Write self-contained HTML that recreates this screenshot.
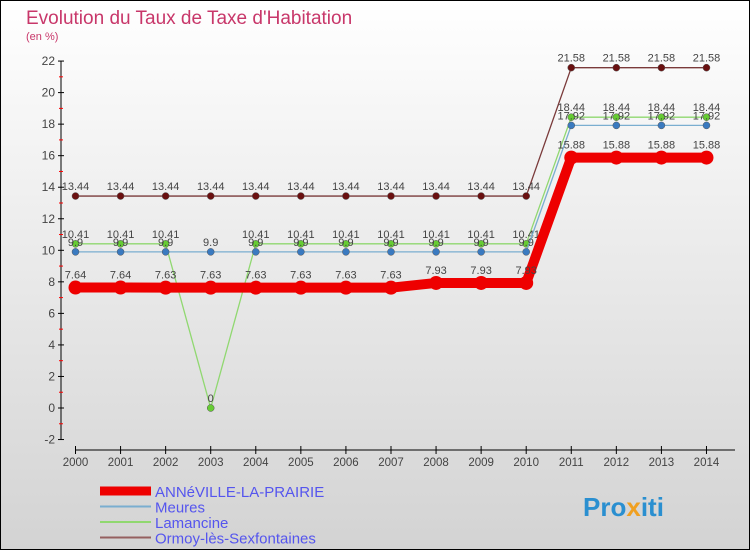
<!DOCTYPE html>
<html><head><meta charset="utf-8"><style>
body{margin:0;}
#c{width:750px;height:550px;position:relative;font-family:"Liberation Sans",sans-serif;}
</style></head><body>
<div id="c">
<svg width="750" height="550" xmlns="http://www.w3.org/2000/svg">
<defs><linearGradient id="bg" x1="0" y1="0" x2="0" y2="1"><stop offset="0" stop-color="#ffffff"/><stop offset="1" stop-color="#d3d3d3"/></linearGradient></defs>
<rect x="0.5" y="0.5" width="749" height="549" fill="url(#bg)" stroke="#000"/>
<text x="26" y="24" font-size="19" fill="#c8376a">Evolution du Taux de Taxe d'Habitation</text>
<text x="26" y="40" font-size="11" fill="#c8376a">(en %)</text>
<g id="axes"></g>
<g id="series"></g>
<g id="legend"></g>
<text x="583" y="516" font-size="26" font-weight="bold" fill="#2a8fd0">Pro<tspan fill="#f0a020">x</tspan>iti</text>
</svg>
</div>
<script>
const years=[2000,2001,2002,2003,2004,2005,2006,2007,2008,2009,2010,2011,2012,2013,2014];
const yTicks=[-2,0,2,4,6,8,10,12,14,16,18,20,22];
const anneville=[7.64,7.64,7.63,7.63,7.63,7.63,7.63,7.63,7.93,7.93,7.93,15.88,15.88,15.88,15.88];
const meures=[9.9,9.9,9.9,9.9,9.9,9.9,9.9,9.9,9.9,9.9,9.9,17.92,17.92,17.92,17.92];
const lamancine=[10.41,10.41,10.41,0,10.41,10.41,10.41,10.41,10.41,10.41,10.41,18.44,18.44,18.44,18.44];
const ormoy=[13.44,13.44,13.44,13.44,13.44,13.44,13.44,13.44,13.44,13.44,13.44,21.58,21.58,21.58,21.58];
const seriesNames=["ANNéVILLE-LA-PRAIRIE","Meures","Lamancine","Ormoy-lès-Sexfontaines"];
const NS="http://www.w3.org/2000/svg";
function X(i){return 75.5+i*45.07;}
function Y(v){return 408-v*15.77;}
function mk(tag,attrs,parent){const e=document.createElementNS(NS,tag);for(const k in attrs)e.setAttribute(k,attrs[k]);parent.appendChild(e);return e;}
const axes=document.getElementById('axes');
let yl=mk('line',{x1:61,y1:Y(22),x2:61,y2:Y(-2),stroke:'#000'},axes);


yTicks.forEach(t=>{
 mk('line',{x1:58,y1:Y(t),x2:64,y2:Y(t),stroke:'#000'},axes);
 if(t<22) mk('line',{x1:59,y1:Y(t+1),x2:63,y2:Y(t+1),stroke:'#f00'},axes);
 const tx=mk('text',{x:55,y:Y(t)+4,'font-size':12,fill:'#444','text-anchor':'end'},axes);
 tx.textContent=t;
 
 
});
let xl=mk('line',{x1:X(0),y1:450,x2:735,y2:450,stroke:'#000'},axes);


years.forEach((y,i)=>{
 mk('line',{x1:X(i),y1:446,x2:X(i),y2:454,stroke:'#000'},axes);
 const tx=mk('text',{x:X(i),y:466,'font-size':11.5,fill:'#444','text-anchor':'middle'},axes);
 tx.textContent=y;
 
 
});
const sg=document.getElementById('series');
const defs=[[ormoy,'#7a3a3a',1.3,'#6a1010',3.5,'ormoy'],[lamancine,'#90d870',1.3,'#66cc33',3.5,'lamancine'],[meures,'#7aaed0',1.3,'#3a7ac0',3.5,'meures'],[anneville,'#ee0000',10,'#ee0000',7,'anneville']];
defs.forEach(d=>{
 const [vals,col,w,pc,r,nm]=d;
 const g=mk('g',{},sg);
 
 
 const pl=mk('polyline',{points:vals.map((v,i)=>X(i)+','+Y(v)).join(' '),fill:'none',stroke:col,'stroke-width':w,'stroke-linejoin':'round'},g);
 
 
 vals.forEach((v,i)=>{
  const c=mk('circle',{cx:X(i),cy:Y(v),r:r,fill:pc,stroke:nm==='anneville'?'none':'#555','stroke-width':0.5},g);
  
  
  const t=mk('text',{x:X(i),y:Y(v)-(nm==='anneville'?9:6),'font-size':11,fill:'#444','text-anchor':'middle'},g);
  t.textContent=v;
  
  
 });
});
const lg=document.getElementById('legend');
const lcols=['#ee0000','#7aaed0','#90d870','#956060'];
const lw=[9,2,2,2];
seriesNames.forEach((n,i)=>{
 const y=491+i*15.5;
 const g=mk('g',{},lg);
 
 
 mk('line',{x1:100,y1:y,x2:151,y2:y,stroke:lcols[i],'stroke-width':lw[i]},g);
 const t=mk('text',{x:155,y:y+6,'font-size':15,fill:'#5555ee'},g);
 t.textContent=n;
});
</script>
</body></html>
